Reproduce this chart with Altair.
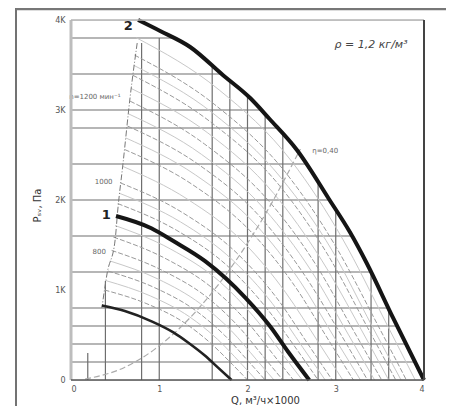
import altair as alt
import pandas as pd

# ---------------- data ----------------
X_TICKS = [0, 1, 2, 3, 4]
Y_TICKS = [0, 1000, 2000, 3000, 4000]

# thick fan curves (Q, m3/h x1000 ; P, Pa)
C2_Q = [0.76, 1.01, 1.35, 1.72, 2.03, 2.25, 2.56, 2.93, 3.16, 3.35, 3.65, 4.00]
C2_P = [4000, 3878, 3700, 3389, 3133, 2900, 2556, 2000, 1644, 1300, 689, 0]
C1_Q = [0.51, 0.91, 1.16, 1.52, 1.98, 2.26, 2.46, 2.70]
C1_P = [1822, 1686, 1544, 1321, 911, 592, 314, 0]
C3_Q = [0.35, 0.61, 0.92, 1.16, 1.33, 1.52, 1.66, 1.82]
C3_P = [828, 766, 649, 529, 414, 269, 143, 0]

# thin grey dashed speed curves
GRAY_Q = [
    [0.38, 0.86, 1.28, 1.58, 1.83, 2.00],
    [0.42, 0.95, 1.41, 1.74, 2.01, 2.20],
    [0.46, 1.03, 1.54, 1.90, 2.19, 2.40],
    [0.48, 1.08, 1.61, 1.99, 2.30, 2.52],
    [0.53, 1.20, 1.79, 2.21, 2.56, 2.80],
    [0.56, 1.27, 1.89, 2.34, 2.70, 2.96],
    [0.61, 1.38, 2.05, 2.53, 2.92, 3.20],
    [0.64, 1.45, 2.15, 2.65, 3.07, 3.36],
    [0.67, 1.51, 2.25, 2.78, 3.21, 3.52],
    [0.70, 1.58, 2.36, 2.91, 3.36, 3.68],
    [0.72, 1.63, 2.43, 3.00, 3.47, 3.80],
]
GRAY_P = [
    [1000, 847, 639, 411, 172, 0],
    [1210, 1025, 773, 497, 208, 0],
    [1440, 1220, 920, 592, 248, 0],
    [1588, 1345, 1015, 653, 273, 0],
    [1960, 1661, 1252, 806, 338, 0],
    [2190, 1856, 1400, 900, 377, 0],
    [2560, 2169, 1636, 1052, 441, 0],
    [2822, 2391, 1804, 1160, 486, 0],
    [3098, 2624, 1979, 1273, 534, 0],
    [3386, 2868, 2163, 1391, 583, 0],
    [3610, 3059, 2307, 1484, 622, 0],
]

# faint hatch curves between them
HATCH_Q = [
    [0.40, 0.90, 1.34, 1.66, 1.92, 2.10],
    [0.44, 0.99, 1.47, 1.82, 2.10, 2.30],
    [0.50, 1.13, 1.68, 2.07, 2.39, 2.62],
    [0.55, 1.24, 1.84, 2.28, 2.63, 2.88],
    [0.59, 1.32, 1.97, 2.43, 2.81, 3.08],
    [0.62, 1.41, 2.10, 2.59, 2.99, 3.28],
    [0.65, 1.48, 2.20, 2.72, 3.14, 3.44],
    [0.68, 1.55, 2.30, 2.84, 3.29, 3.60],
    [0.71, 1.61, 2.39, 2.96, 3.41, 3.74],
    [0.74, 1.68, 2.50, 3.08, 3.56, 3.90],
]
HATCH_P = [
    [1103, 934, 704, 453, 190, 0],
    [1323, 1120, 845, 544, 228, 0],
    [1716, 1454, 1097, 705, 296, 0],
    [2074, 1757, 1325, 852, 357, 0],
    [2372, 2009, 1515, 975, 409, 0],
    [2690, 2279, 1719, 1105, 463, 0],
    [2958, 2506, 1890, 1216, 510, 0],
    [3240, 2745, 2070, 1332, 558, 0],
    [3497, 2963, 2234, 1437, 602, 0],
    [3803, 3222, 2430, 1563, 655, 0],
]

# dashed working-range boundary
BND_Q = [0.75, 0.67, 0.59, 0.53, 0.50, 0.41, 0.35]
BND_P = [3744, 3144, 2411, 1889, 1556, 1189, 800]

# efficiency line
EFF_Q = [0.16, 0.60, 0.95, 1.25, 1.60, 1.90, 2.20, 2.60]
EFF_P = [10, 137, 343, 594, 973, 1372, 1839, 2569]

# grid lines (value, end on the fan curve)
HGRID_P = [200, 400, 600, 800, 1200, 1600, 2000, 2400, 2800, 3000, 3400, 3800]
HGRID_QEND = [3.90, 3.79, 3.69, 3.59, 3.40, 3.18, 2.93, 2.66, 2.33, 2.15, 1.71, 1.16]
VGRID_Q = [0.8, 1.0, 1.6, 1.8, 2.0, 2.2, 2.4, 2.8, 3.0, 3.4, 3.6]
VGRID_PEND = [3744, 3800, 3490, 3323, 3158, 2953, 2734, 2195, 1892, 1198, 791]
SHORT_Q = [0.19, 0.39]
SHORT_PEND = [300, 1100]

LABEL_TEXT = ["n=1200 мин⁻¹", "1000", "800", "η=0,40"]
LABEL_Q = [0.27, 0.37, 0.32, 2.88]
LABEL_P = [3140, 2200, 1420, 2550]

# ---------------- tables ----------------
def line_df(qs, ps, name):
    return pd.DataFrame({"q": qs, "p": ps, "curve": name, "i": range(len(qs))})

main_df = pd.concat([
    line_df(C2_Q, C2_P, "c2"),
    line_df(C1_Q, C1_P, "c1"),
])
c3_df = line_df(C3_Q, C3_P, "c3")
gray_df = pd.concat([line_df(q, p, f"g{k}") for k, (q, p) in enumerate(zip(GRAY_Q, GRAY_P))])
hatch_df = pd.concat([line_df(q, p, f"h{k}") for k, (q, p) in enumerate(zip(HATCH_Q, HATCH_P))])
bnd_df = line_df(BND_Q, BND_P, "b")
eff_df = line_df(EFF_Q, EFF_P, "e")
hgrid_df = pd.DataFrame({"p": HGRID_P, "q0": 0.0, "q1": HGRID_QEND})
vgrid_df = pd.DataFrame({"q": VGRID_Q + SHORT_Q, "p0": 0.0, "p1": VGRID_PEND + SHORT_PEND})
lab_df = pd.DataFrame({"t": LABEL_TEXT, "q": LABEL_Q, "p": LABEL_P})
num_df = pd.DataFrame({"t": ["2", "1"], "q": [0.70, 0.45], "p": [3930, 1830]})
rho_df = pd.DataFrame({"t": ["ρ = 1,2 кг/м³"], "q": [3.40], "p": [3720]})

FONT = "DejaVu Sans"
xs = alt.Scale(domain=[0, 4], nice=False, zero=False)
ys = alt.Scale(domain=[0, 4000], nice=False, zero=False)
xaxis = alt.Axis(values=X_TICKS, grid=False, domain=False, ticks=False,
                 labelFontSize=8, labelColor="#555", labelPadding=5, labelFont=FONT,
                 title="Q, м³/ч×1000", titleFont=FONT, titleFontSize=10,
                 titleFontWeight="normal", titleColor="#333",
                 titleX=194, titleY=23, titleBaseline="alphabetic")
yaxis = alt.Axis(values=Y_TICKS, grid=False, domain=False, ticks=False,
                 labelFontSize=8, labelColor="#555", labelPadding=6, labelFont=FONT,
                 labelExpr="datum.value == 0 ? '0' : (datum.value / 1000) + 'K'",
                 title="Pₛᵥ, Па", titleFont=FONT, titleFontSize=10,
                 titleFontWeight="normal", titleColor="#333",
                 titleX=-34, titleY=185, titleBaseline="middle")

def X(f="q"):
    return alt.X(f"{f}:Q", scale=xs, axis=xaxis)

def Y(f="p"):
    return alt.Y(f"{f}:Q", scale=ys, axis=yaxis)

base_grid_h = alt.Chart(hgrid_df).mark_rule(color="#6e6e6e", strokeWidth=1.2).encode(
    x=X("q0"), x2="q1:Q", y=Y("p"))
base_grid_v = alt.Chart(vgrid_df).mark_rule(color="#6e6e6e", strokeWidth=1.2).encode(
    x=X("q"), y=Y("p0"), y2="p1:Q")

hatch = alt.Chart(hatch_df).mark_line(color="#c8c8c8", strokeWidth=1,
                                      interpolate="monotone").encode(
    x=X(), y=Y(), detail="curve:N", order="i:O")
gray = alt.Chart(gray_df).mark_line(color="#9a9a9a", strokeWidth=1,
                                    strokeDash=[5, 2], interpolate="monotone").encode(
    x=X(), y=Y(), detail="curve:N", order="i:O")
bnd = alt.Chart(bnd_df).mark_line(color="#777", strokeWidth=1,
                                  strokeDash=[6, 2, 1, 2], interpolate="monotone").encode(
    x=X(), y=Y(), order="i:O")
eff = alt.Chart(eff_df).mark_line(color="#aaa", strokeWidth=1.2,
                                  strokeDash=[6, 3], interpolate="monotone").encode(
    x=X(), y=Y(), order="i:O")
main = alt.Chart(main_df).mark_line(color="#151515", strokeWidth=4,
                                    interpolate="monotone").encode(
    x=X(), y=Y(), detail="curve:N", order="i:O")
c3 = alt.Chart(c3_df).mark_line(color="#222", strokeWidth=2.6,
                                interpolate="monotone").encode(
    x=X(), y=Y(), order="i:O")

labs = alt.Chart(lab_df).mark_text(font=FONT, fontSize=7, color="#666",
                                   align="center", baseline="middle").encode(
    x=X(), y=Y(), text="t:N")
nums = alt.Chart(num_df).mark_text(font=FONT, fontSize=13, fontWeight="bold", color="#222",
                                   align="right", baseline="middle").encode(
    x=X(), y=Y(), text="t:N")
rho = alt.Chart(rho_df).mark_text(font=FONT, fontSize=11, fontStyle="italic", color="#444",
                                  align="center", baseline="middle").encode(
    x=X(), y=Y(), text="t:N")

# frame: plot borders and outer page frame
frame_src = pd.DataFrame({"k": [0]})
left_axis = alt.Chart(frame_src).mark_rule(color="#bdbdbd", strokeWidth=3).encode(
    x=alt.value(0), y=alt.value(0), y2=alt.value(360))
bottom_axis = alt.Chart(frame_src).mark_rule(color="#555", strokeWidth=1.6).encode(
    x=alt.value(0), x2=alt.value(353), y=alt.value(360))
top_border = alt.Chart(frame_src).mark_rule(color="#b5b5b5", strokeWidth=1.5).encode(
    x=alt.value(0), x2=alt.value(353), y=alt.value(0))
right_border = alt.Chart(frame_src).mark_rule(color="#444", strokeWidth=2).encode(
    x=alt.value(353), y=alt.value(0), y2=alt.value(360))
outer_left = alt.Chart(frame_src).mark_rule(color="#444", strokeWidth=1.5).encode(
    x=alt.value(-55), y=alt.value(-12), y2=alt.value(400))
outer_top = alt.Chart(frame_src).mark_rule(color="#777", strokeWidth=2.5).encode(
    x=alt.value(-55), x2=alt.value(400), y=alt.value(-11))

chart = alt.layer(
    base_grid_h, base_grid_v, hatch, gray, bnd, eff, c3, main, labs, nums, rho,
    left_axis, bottom_axis, top_border, right_border, outer_left, outer_top,
).properties(
    width=353, height=360,
    autosize=alt.AutoSizeParams(type="none"),
    padding={"left": 63, "top": 12, "right": 22, "bottom": 26},
).configure_view(stroke=None).configure(background="white")

chart.save("out.html", embed_options={"renderer": "svg", "actions": False})
